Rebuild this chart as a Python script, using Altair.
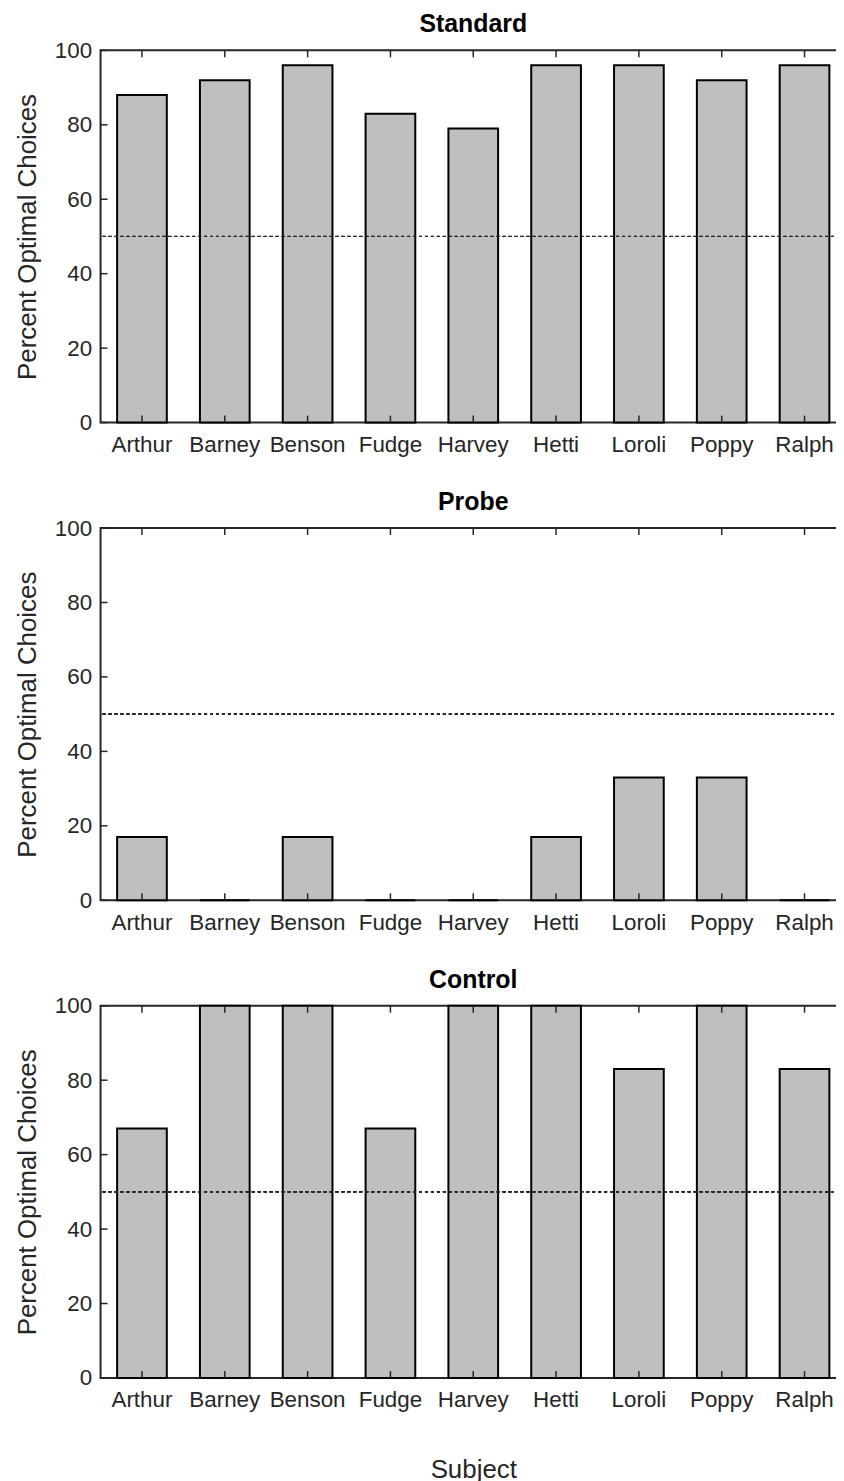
import altair as alt
import pandas as pd

subjects = ["Arthur", "Barney", "Benson", "Fudge", "Harvey", "Hetti", "Loroli", "Poppy", "Ralph"]
standard = [88, 92, 96, 83, 79, 96, 96, 92, 96]
probe = [17, 0, 17, 0, 0, 17, 33, 33, 0]
control = [67, 100, 100, 67, 100, 100, 83, 100, 83]
y_ticks = [0, 20, 40, 60, 80, 100]
chance = 50

W = 749
H = 374
TL = 7
FONT = "Liberation Sans"
INK = "#262626"
YTITLE = "Percent Optimal Choices"


def panel(title, values, show_xtitle):
    df = pd.DataFrame({"subject": subjects, "value": values})
    ydf = pd.DataFrame({"value": y_ticks})
    sdf = pd.DataFrame({"subject": subjects})
    xtitle = "Subject" if show_xtitle else None
    xaxis = alt.Axis(
        labelAngle=0, ticks=False, domain=False, grid=False,
        labelPadding=11, titlePadding=46,
    )
    xscale = alt.Scale(paddingInner=0.4, paddingOuter=0.2)
    yaxis = alt.Axis(values=y_ticks, ticks=False, domain=False, grid=False,
                     labelPadding=9, titlePadding=14)
    yscale = alt.Scale(domain=[0, 100], nice=False)

    def X(**kw):
        return alt.X("subject:N", sort=subjects, axis=xaxis, scale=xscale, title=xtitle, **kw)

    def Y():
        return alt.Y("value:Q", title=YTITLE, scale=yscale, axis=yaxis)

    bars = alt.Chart(df).mark_bar(
        fill="#bfbfbf", stroke="black", strokeWidth=2
    ).encode(x=X(), y=Y())
    dash = alt.Chart(df).mark_rule(
        color=INK, strokeWidth=1, strokeDash=[3, 3]
    ).encode(y=alt.datum(chance))
    yl = alt.Chart(ydf).mark_rule(color=INK, strokeWidth=1.5).encode(
        y=Y(), x=alt.value(0), x2=alt.value(TL))
    yr = alt.Chart(ydf).mark_rule(color=INK, strokeWidth=1.5).encode(
        y=Y(), x=alt.value(W - TL), x2=alt.value(W))
    xt = alt.Chart(sdf).mark_rule(color=INK, strokeWidth=1.5).encode(
        x=X(bandPosition=0.5), y=alt.value(0), y2=alt.value(TL))
    xb = alt.Chart(sdf).mark_rule(color=INK, strokeWidth=1.5).encode(
        x=X(bandPosition=0.5), y=alt.value(H - TL), y2=alt.value(H))
    return alt.layer(bars, dash, yl, yr, xt, xb).properties(
        width=W, height=H,
        title=alt.TitleParams(title, fontSize=25, fontWeight="bold", font=FONT,
                              color="black", offset=2, anchor="middle"),
    )


chart = alt.vconcat(
    panel("Standard", standard, False),
    panel("Probe", probe, False),
    panel("Control", control, True),
    spacing=32,
).configure(
    padding={"left": 5, "top": 0, "right": -12, "bottom": -4},
    font=FONT,
).configure_view(
    stroke=INK, strokeWidth=2
).configure_axis(
    labelFont=FONT, labelFontSize=22.5, labelColor=INK,
    titleFont=FONT, titleFontSize=26, titleColor=INK, titleFontWeight="normal",
)

chart.save("out.html", embed_options={"renderer": "svg", "actions": False})
